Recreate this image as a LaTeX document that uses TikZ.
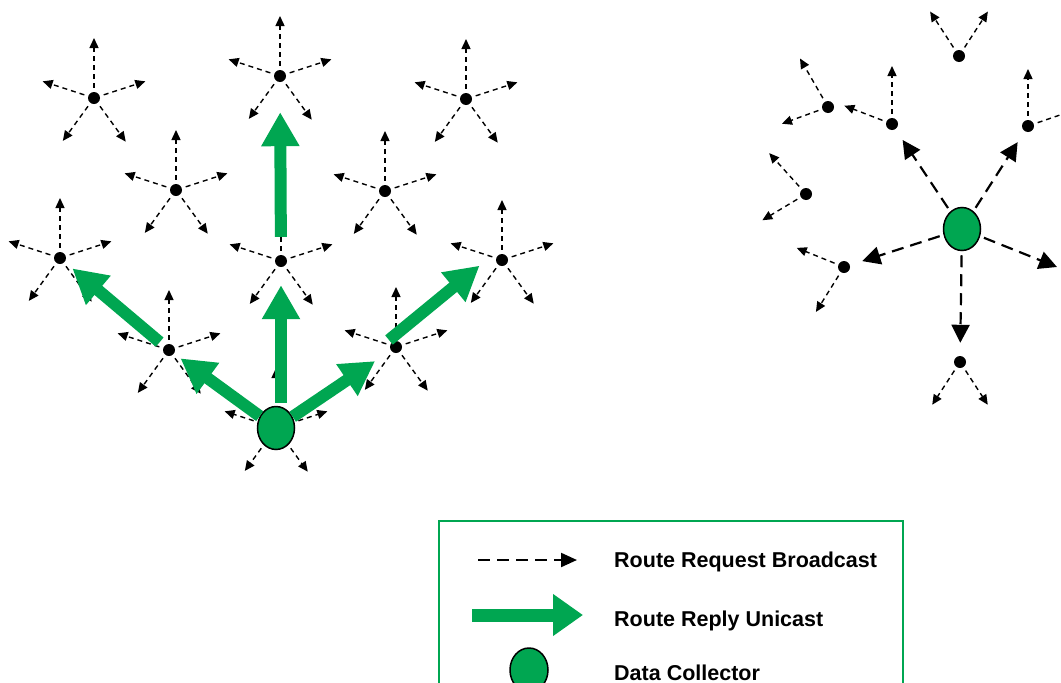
\documentclass[tikz,border=0pt]{standalone}
\usepackage{fontspec}
\setmainfont{Liberation Sans}
\usetikzlibrary{arrows.meta,shapes.geometric}
\definecolor{dcgreen}{RGB}{0,166,81}

\begin{document}
\begin{tikzpicture}[x=1pt, y=-1pt,
    sensor/.style={circle, fill=black, inner sep=0pt, minimum size=12pt},
    collector/.style={ellipse, draw=black, line width=1.5pt, fill=dcgreen, inner sep=0pt, minimum width=37pt, minimum height=43pt},
    rreq/.style={dash pattern=on 5pt off 4pt, line width=1.4pt, -{Triangle[length=10pt,width=9pt]}, shorten <=4pt},
    rreqbig/.style={dash pattern=on 12pt off 7pt, line width=2.2pt, -{Triangle[length=18pt,width=18pt]}},
    rrep/.style={draw=dcgreen, line width=12pt, -{Triangle[length=34pt,width=36pt]}},
    legtext/.style={anchor=base west, inner sep=0pt, font=\bfseries\fontsize{21.5}{24}\selectfont}]
    \useasboundingbox (0,0) rectangle (1061,683);
    % left field
    \foreach \n/\x/\y in {a/94/98, b/280/76, c/466/99, d/176/190, e/385/191, f/60/258, g/281/261, h/502/260, i/169/350, j/396/347}
        \node[sensor] (\n) at (\x,\y) {};
    \node[collector] (dc1) at (276,428) {};
    \foreach \n in {a,b,c,d,e,f,g,h,i,j,dc1}
        \foreach \ang/\len [count=\k] in {-90/60, -162/54, -18/54, 126/53, 54/54} {
            \path (\n) ++(\ang:\len) coordinate (\n-t\k);
            \draw[rreq] (\n) -- (\n-t\k);
        }
    \draw[rrep, shorten <=3pt, shorten >=18pt] (g |- dc1.north) -- (g);
    \draw[rrep, shorten <=18pt, shorten >=30pt] (g) -- (b);
    \draw[rrep, shorten >=8pt] (dc1) -- (i);
    \draw[rrep, shorten <=6pt, shorten >=10pt] (i) -- (f);
    \draw[rrep, shorten >=19pt] (dc1) -- (j);
    \draw[rrep, shorten >=20pt] ([shift={(-7,-7)}]j.center) -- ([shift={(-7,-7)}]h.center);
    % right field
    \node[collector] (dc2) at (962,229) {};
    \foreach \n/\x/\y in {t/959/56, n1/828/107, n2/892/124, n3/1028/126, n4/806/194, n5/844/267, n6/960/362}
        \node[sensor] (\n) at (\x,\y) {};
    \coordinate (off) at (1057,267);
    \foreach \n/\ang/\len in {t/-123/53, t/-57/53, n1/-120/56, n1/160/49, n2/-90/58, n2/-159/51, n3/-90/57, n3/-19/55,
        n4/-132/55, n4/149/51, n5/-158/51, n5/122/53, n6/123/51, n6/57/51} {
        \path (\n) ++(\ang:\len) coordinate (tip);
        \draw[rreq] (\n) -- (tip);
    }
    \foreach \n in {n2,n3,n5,n6}
        \draw[rreqbig, shorten <=4pt, shorten >=13pt] (dc2) -- (\n);
    \draw[rreqbig, shorten <=4pt] (dc2) -- (off);
    % legend
    \draw[dcgreen, line width=1.5pt] (439,521) rectangle (903,720);
    \coordinate (lq1) at (478,560);
    \coordinate (lq2) at (577,560);
    \draw[rreqbig, -{Triangle[length=16pt,width=14pt]}] (lq1) -- (lq2);
    \coordinate (lr1) at (472,615);
    \coordinate (lr2) at (583,615);
    \draw[rrep, -{Triangle[length=30pt,width=40pt]}, line width=13pt] (lr1) -- (lr2);
    \node[collector, minimum width=38pt, minimum height=44pt] (ldc) at (529,670) {};
    \node[legtext] (l1) at (614,567) {Route Request Broadcast};
    \node[legtext] (l2) at (614,626) {Route Reply Unicast};
    \node[legtext] (l3) at (614,680) {Data Collector};
\end{tikzpicture}
\end{document}
